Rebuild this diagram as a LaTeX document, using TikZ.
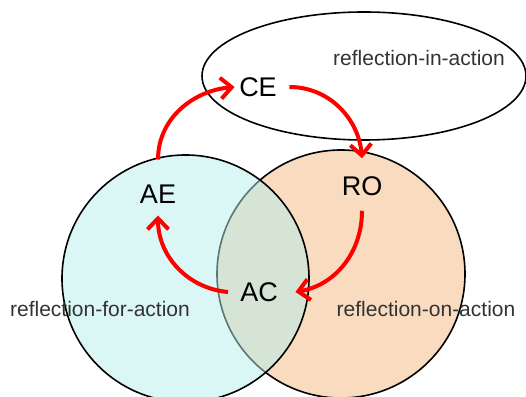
\documentclass[tikz,border=0pt]{standalone}
\usepackage{fontspec}
\setmainfont{Liberation Sans}
\usetikzlibrary{arrows.meta}
\definecolor{forfill}{HTML}{B5EDEB}
\definecolor{onfill}{HTML}{F9DBBF}
\definecolor{labelgray}{HTML}{333333}
\definecolor{cyclered}{HTML}{FF0000}
\tikzset{
  zone/.style={draw=black, line width=1.6pt},
  stage/.style={font=\fontsize{27}{30}\selectfont, inner sep=4.5pt, text=black},
  modelabel/.style={font=\fontsize{21}{25}\selectfont, text=labelgray, inner sep=0pt},
  cycle/.style={draw=cyclered, line width=4pt,
    -{Straight Barb[length=11pt, width=21pt, line width=4pt]}}
}
\begin{document}
\begin{tikzpicture}[x=1pt, y=1pt]
  \useasboundingbox (0,0) rectangle (526,396);
  % reflection-on-action zone
  \fill[onfill] (341,122) circle (124);
  \draw[zone] (341,122) circle (124);
  % reflection-for-action zone, laid over it
  \fill[forfill, fill opacity=0.5] (185.5,117.5) circle (123.5);
  \draw[zone] (185.5,117.5) circle (123.5);
  % reflection-in-action zone
  \draw[zone] (364,320) ellipse [x radius=162, y radius=64];

  % zone labels
  \node[modelabel] (lin)  at (419,338) {reflection-in-action};
  \node[modelabel] (lfor) at (100,87)  {reflection-for-action};
  \node[modelabel] (lon)  at (426,87)  {reflection-on-action};

  % stages of the cycle
  \node[stage] (CE) at (258,309) {CE};
  \node[stage] (RO) at (362,210) {RO};
  \node[stage] (AE) at (158,202) {AE};
  \node[stage] (AC) at (259,104) {AC};

  % cycle arrows
  \draw[cycle] ([yshift=20.5pt]AE.north) to[out=90, in=185] (CE.west);
  \draw[cycle] ([xshift=8pt]CE.east) to[out=0, in=95] ([yshift=13.5pt]RO.north);
  \draw[cycle] ([yshift=-10.5pt]RO.south) to[out=-90, in=10] ([xshift=13pt]AC.east);
  \draw[cycle] ([xshift=-7.5pt]AC.west) to[out=175, in=-90] ([yshift=-7.5pt]AE.south);
\end{tikzpicture}
\end{document}
